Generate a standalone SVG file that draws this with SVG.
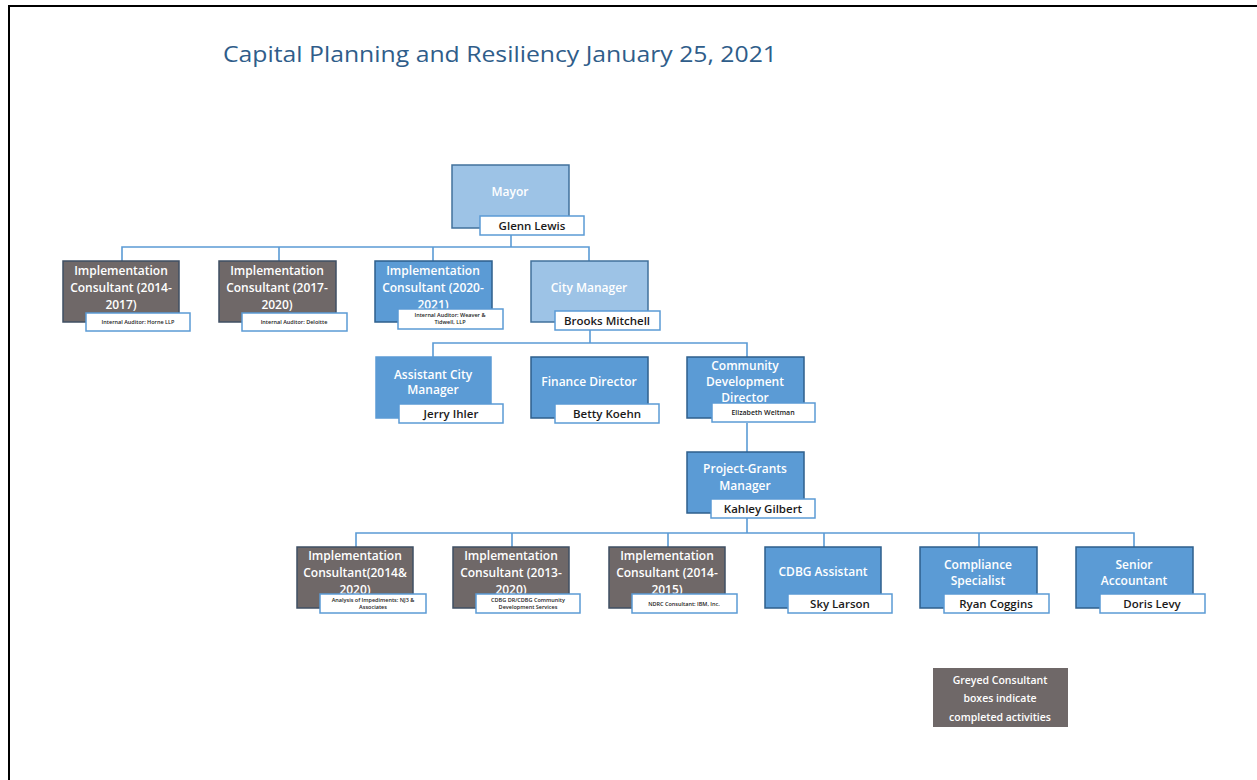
<svg xmlns="http://www.w3.org/2000/svg" width="1257" height="780" viewBox="0 0 1257 780">
  <style>
    .frame { stroke: #000; stroke-width: 2; fill: none; }
    .title { font-family: "Open Sans", "Liberation Sans", sans-serif; font-size: 21px; fill: #2f5d8a; }
    .grey { fill: #6f6868; stroke: #3f4f63; stroke-width: 1.5; }
    .blue { fill: #5b9bd5; stroke: #2e5f8c; stroke-width: 1.5; }
    .blue-soft { fill: #5b9bd5; stroke: #5b9bd5; stroke-width: 1.5; }
    .light { fill: #9dc3e6; stroke: #41719c; stroke-width: 1.5; }
    .tag { fill: #fff; stroke: #5b9bd5; stroke-width: 1.5; }
    .role { font-family: "Open Sans", "Liberation Sans", sans-serif; font-size: 12px; font-weight: 600; fill: #fff; text-anchor: middle; }
    .name { font-family: "Open Sans", "Liberation Sans", sans-serif; font-size: 11.5px; font-weight: 600; fill: #1a1a1a; text-anchor: middle; }
    .small { font-family: "Open Sans", "Liberation Sans", sans-serif; font-size: 5.5px; font-weight: 600; fill: #222; text-anchor: middle; }
    .legend { font-family: "Open Sans", "Liberation Sans", sans-serif; font-size: 10.5px; font-weight: 600; fill: #fff; text-anchor: middle; }
    .link { stroke: #5b9bd5; stroke-width: 1.6; fill: none; }
  </style>

  <rect width="1257" height="780" fill="#fff"/>
  <!-- page frame: top and left edges only -->
  <path class="frame" d="M9,780 V6 H1257"/>

  <text class="title" x="223" y="62" textLength="554" lengthAdjust="spacingAndGlyphs">Capital Planning and Resiliency January 25, 2021</text>

  <!-- reporting lines -->
  <g id="connectors">
    <path class="link" d="M511,235 V247 M122,261 V247 H589 V261 M279,247 V261 M433,247 V261"/>
    <path class="link" d="M590,330 V343 M433,357 V343 H747 V357"/>
    <path class="link" d="M747,423 V452"/>
    <path class="link" d="M747,518 V533 M356,547 V533 H1134 V547 M512,533 V547 M668,533 V547 M824,533 V547 M979,533 V547"/>
  </g>

  <g id="mayor">
    <rect class="light" x="452" y="165" width="117" height="63"/>
    <text class="role" x="510" y="196">Mayor</text>
    <rect class="tag" x="480" y="216" width="104" height="19"/>
    <text class="name" x="532" y="230">Glenn Lewis</text>
  </g>

  <g id="consultant-2014-2017">
    <rect class="grey" x="63" y="261" width="116" height="61"/>
    <text class="role" x="121" y="275">Implementation</text>
    <text class="role" x="121" y="292">Consultant (2014-</text>
    <text class="role" x="121" y="309">2017)</text>
    <rect class="tag" x="86" y="313" width="104" height="18"/>
    <text class="small" x="138" y="324">Internal Auditor: Horne LLP</text>
  </g>

  <g id="consultant-2017-2020">
    <rect class="grey" x="219" y="261" width="117" height="61"/>
    <text class="role" x="277" y="275">Implementation</text>
    <text class="role" x="277" y="292">Consultant (2017-</text>
    <text class="role" x="277" y="309">2020)</text>
    <rect class="tag" x="242" y="313" width="105" height="18"/>
    <text class="small" x="294" y="324">Internal Auditor: Deloitte</text>
  </g>

  <g id="consultant-2020-2021">
    <rect class="blue" x="375" y="261" width="117" height="61"/>
    <text class="role" x="433" y="275">Implementation</text>
    <text class="role" x="433" y="292">Consultant (2020-</text>
    <text class="role" x="433" y="309">2021)</text>
    <rect class="tag" x="398" y="309" width="105" height="20"/>
    <text class="small" x="450" y="317">Internal Auditor: Weaver &amp;</text>
    <text class="small" x="450" y="324">Tidwell, LLP</text>
  </g>

  <g id="city-manager">
    <rect class="light" x="531" y="261" width="117" height="61"/>
    <text class="role" x="589" y="292">City Manager</text>
    <rect class="tag" x="555" y="311" width="105" height="19"/>
    <text class="name" x="607" y="325">Brooks Mitchell</text>
  </g>

  <g id="assistant-city-manager">
    <rect class="blue-soft" x="376" y="357" width="115" height="61"/>
    <text class="role" x="433" y="379">Assistant City</text>
    <text class="role" x="433" y="394">Manager</text>
    <rect class="tag" x="399" y="404" width="104" height="19"/>
    <text class="name" x="451" y="418">Jerry Ihler</text>
  </g>

  <g id="finance-director">
    <rect class="blue" x="531" y="357" width="117" height="61"/>
    <text class="role" x="589" y="386">Finance Director</text>
    <rect class="tag" x="555" y="404" width="104" height="19"/>
    <text class="name" x="607" y="418">Betty Koehn</text>
  </g>

  <g id="community-development-director">
    <rect class="blue" x="687" y="357" width="117" height="61"/>
    <text class="role" x="745" y="370">Community</text>
    <text class="role" x="745" y="386">Development</text>
    <text class="role" x="745" y="402">Director</text>
    <rect class="tag" x="712" y="403" width="103" height="19"/>
    <text class="small" x="763" y="415" style="font-size:7px">Elizabeth Weltman</text>
  </g>

  <g id="project-grants-manager">
    <rect class="blue" x="687" y="452" width="117" height="61"/>
    <text class="role" x="745" y="473">Project-Grants</text>
    <text class="role" x="745" y="490">Manager</text>
    <rect class="tag" x="711" y="499" width="104" height="19"/>
    <text class="name" x="763" y="513">Kahley Gilbert</text>
  </g>

  <g id="consultant-2014-2020">
    <rect class="grey" x="297" y="547" width="116" height="61"/>
    <text class="role" x="355" y="560">Implementation</text>
    <text class="role" x="355" y="577">Consultant(2014&amp;</text>
    <text class="role" x="355" y="594">2020)</text>
    <rect class="tag" x="320" y="594" width="106" height="19"/>
    <text class="small" x="373" y="602">Analysis of Impediments: NJ3 &amp;</text>
    <text class="small" x="373" y="609">Associates</text>
  </g>

  <g id="consultant-2013-2020">
    <rect class="grey" x="453" y="547" width="116" height="61"/>
    <text class="role" x="511" y="560">Implementation</text>
    <text class="role" x="511" y="577">Consultant (2013-</text>
    <text class="role" x="511" y="594">2020)</text>
    <rect class="tag" x="476" y="594" width="104" height="19"/>
    <text class="small" x="528" y="602">CDBG DR/CDBG Community</text>
    <text class="small" x="528" y="609">Development Services</text>
  </g>

  <g id="consultant-2014-2015">
    <rect class="grey" x="609" y="547" width="116" height="61"/>
    <text class="role" x="667" y="560">Implementation</text>
    <text class="role" x="667" y="577">Consultant (2014-</text>
    <text class="role" x="667" y="594">2015)</text>
    <rect class="tag" x="632" y="594" width="105" height="19"/>
    <text class="small" x="684" y="606">NDRC Consultant: IBM, Inc.</text>
  </g>

  <g id="cdbg-assistant">
    <rect class="blue" x="765" y="547" width="116" height="61"/>
    <text class="role" x="823" y="576">CDBG Assistant</text>
    <rect class="tag" x="788" y="594" width="104" height="19"/>
    <text class="name" x="840" y="608">Sky Larson</text>
  </g>

  <g id="compliance-specialist">
    <rect class="blue" x="920" y="547" width="117" height="61"/>
    <text class="role" x="978" y="569">Compliance</text>
    <text class="role" x="978" y="585">Specialist</text>
    <rect class="tag" x="944" y="594" width="105" height="19"/>
    <text class="name" x="996" y="608">Ryan Coggins</text>
  </g>

  <g id="senior-accountant">
    <rect class="blue" x="1076" y="547" width="117" height="61"/>
    <text class="role" x="1134" y="569">Senior</text>
    <text class="role" x="1134" y="585">Accountant</text>
    <rect class="tag" x="1100" y="594" width="105" height="19"/>
    <text class="name" x="1152" y="608">Doris Levy</text>
  </g>

  <g id="legend">
    <rect x="933" y="668" width="135" height="59" fill="#6f6868"/>
    <text class="legend" x="1000" y="684">Greyed Consultant</text>
    <text class="legend" x="1000" y="702">boxes indicate</text>
    <text class="legend" x="1000" y="721">completed activities</text>
  </g>
</svg>
